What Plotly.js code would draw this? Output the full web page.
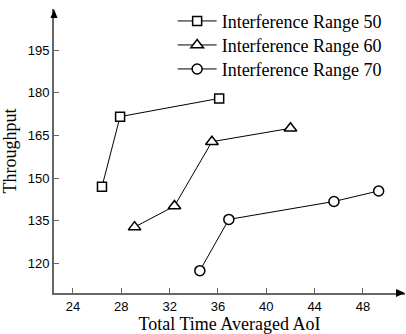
<!DOCTYPE html>
<html>
<head>
<meta charset="utf-8">
<script src="https://cdn.plot.ly/plotly-3.0.1.min.js"></script>
<style>html,body{margin:0;padding:0;background:#fff;}#chart{width:406px;height:334px;}</style>
</head>
<body>
<div id="chart"></div>
<script>
const seriesNames = ["Interference Range 50", "Interference Range 60", "Interference Range 70"];
const aoi50 = [26.4, 27.9, 36.1];
const thr50 = [147.0, 171.6, 178.0];
const aoi60 = [29.1, 32.4, 35.5, 42.0];
const thr60 = [132.8, 140.2, 162.8, 167.5];
const aoi70 = [34.5, 36.9, 45.6, 49.3];
const thr70 = [117.5, 135.5, 141.8, 145.5];
const xTicks = [24, 28, 32, 36, 40, 44, 48];
const yTicks = [120, 135, 150, 165, 180, 195];

const SERIF = 'Liberation Serif';
const SANS = 'Liberation Sans';

function mk(x, y, name, symbol, size, legendId) {
  return {
    x: x, y: y, name: name, type: 'scatter', mode: 'lines+markers',
    legend: legendId,
    line: {color: '#000', width: 1},
    marker: {symbol: symbol, size: size, color: '#fff', line: {color: '#000', width: 1.5}},
    cliponaxis: false
  };
}
const data = [
  mk(aoi50, thr50, seriesNames[0], 'square', 9, 'legend'),
  mk(aoi60, thr60, seriesNames[1], 'triangle-up', 11, 'legend2'),
  mk(aoi70, thr70, seriesNames[2], 'circle', 10, 'legend3')
];

const W = 351, H = 284;
function leg(y) {
  return {
    x: 0.338, y: y, xanchor: 'left', yanchor: 'top',
    font: {family: SERIF, size: 18, color: '#000'},
    bgcolor: 'rgba(0,0,0,0)', itemwidth: 39
  };
}
const layout = {
  width: 406, height: 334,
  margin: {l: 54, r: 1, t: 9, b: 41},
  paper_bgcolor: '#fff', plot_bgcolor: '#fff',
  font: {family: SERIF, color: '#000'},
  showlegend: true,
  legend: leg(1.022),
  legend2: leg(0.9375),
  legend3: leg(0.853),
  xaxis: {
    range: [22.43, 51.48], showgrid: false, zeroline: false,
    showline: true, linecolor: '#666', linewidth: 2,
    ticks: 'inside', ticklen: 5, tickcolor: '#666', tickwidth: 1,
    tickvals: xTicks, ticktext: xTicks.map(String),
    tickfont: {family: SANS, size: 13, color: '#000'},
    title: {text: 'Total Time Averaged AoI', font: {family: SERIF, size: 18, color: '#000'}, standoff: 4}
  },
  yaxis: {
    range: [109.66, 209.4], showgrid: false, zeroline: false,
    showline: true, linecolor: '#666', linewidth: 2,
    ticks: 'inside', ticklen: 5, tickcolor: '#666', tickwidth: 1,
    tickvals: yTicks, ticktext: yTicks.map(String),
    tickfont: {family: SANS, size: 13, color: '#000'},
    title: {text: 'Throughput', font: {family: SERIF, size: 18, color: '#000'}, standoff: 6}
  },
  shapes: [
    {type: 'path', xref: 'paper', yref: 'paper', layer: 'above',
     path: 'M 1 0 L ' + (1 - 9 / W) + ' ' + (4 / H) + ' L ' + (1 - 9 / W) + ' ' + (-4 / H) + ' Z',
     fillcolor: '#000', line: {width: 0}},
    {type: 'path', xref: 'paper', yref: 'paper', layer: 'above',
     path: 'M 0 1 L ' + (-3.5 / W) + ' ' + (1 - 9 / H) + ' L ' + (3.5 / W) + ' ' + (1 - 9 / H) + ' Z',
     fillcolor: '#000', line: {width: 0}}
  ]
};
Plotly.newPlot('chart', data, layout, {displayModeBar: false, staticPlot: true});
</script>
</body>
</html>
